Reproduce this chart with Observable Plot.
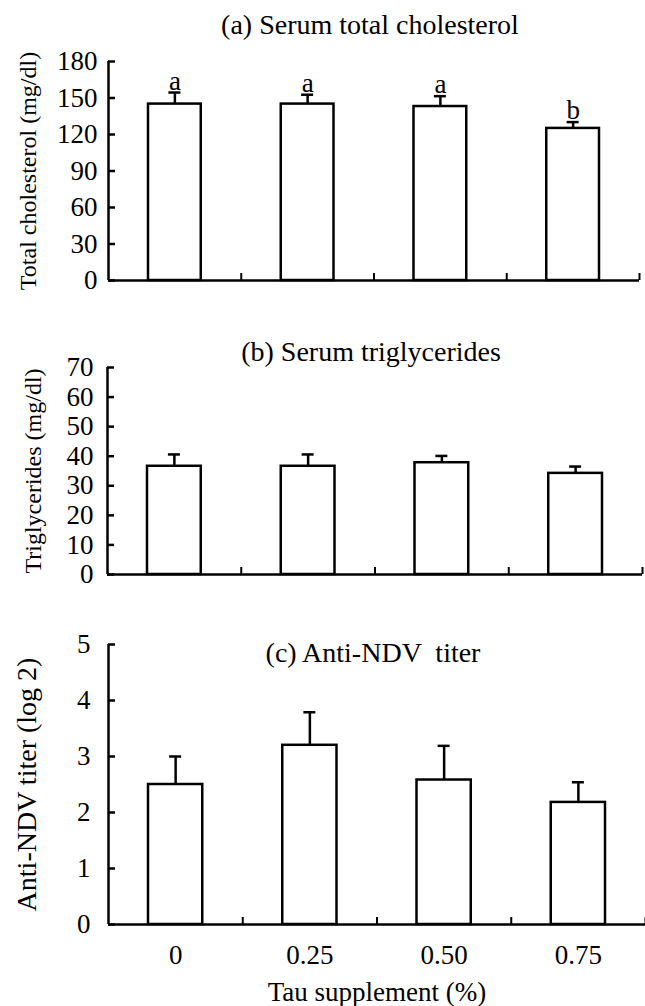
<!DOCTYPE html>
<html>
<head>
<meta charset="utf-8">
<script src="https://cdn.jsdelivr.net/npm/d3@7"></script>
<script src="https://cdn.jsdelivr.net/npm/@observablehq/plot@0.6"></script>
<style>
  html, body { margin: 0; padding: 0; background: white; }
  #chart svg { display: block; }
</style>
</head>
<body>
<div id="chart"></div>
<script>
// ---- Data ----
const categories = ["0", "0.25", "0.50", "0.75"];

const cholMean = [145, 145, 143, 125];
const cholErr = [9.5, 7.7, 8.5, 5.2];
const cholLetters = ["a", "a", "a", "b"];
const cholTicks = [0, 30, 60, 90, 120, 150, 180];

const trigMean = [36.6, 36.6, 37.8, 34.2];
const trigErr = [4.0, 4.0, 2.3, 2.3];
const trigTicks = [0, 10, 20, 30, 40, 50, 60, 70];

const ndvMean = [2.5, 3.2, 2.58, 2.18];
const ndvErr = [0.5, 0.59, 0.61, 0.36];
const ndvTicks = [0, 1, 2, 3, 4, 5];

const titles = ["(a) Serum total cholesterol", "(b) Serum triglycerides", "(c) Anti-NDV  titer"];
const yLabels = ["Total cholesterol (mg/dl)", "Triglycerides (mg/dl)", "Anti-NDV titer (log 2)"];
const xTitle = "Tau supplement (%)";

const FONT = "Liberation Serif";
const SW = 2.5;

function rowsOf(means, errs, letters) {
  return categories.map((c, i) => ({cat: c, i, mean: means[i], err: errs[i], top: means[i] + errs[i], letter: letters ? letters[i] : ""}));
}

function panel(o) {
  const rows = rowsOf(o.means, o.errs, o.letters);
  const yMax = o.ticks[o.ticks.length - 1];
  const marks = [
    Plot.rect(rows, {x1: d => d.i, x2: d => d.i + 1, y1: () => 0, y2: "mean", insetLeft: 40, insetRight: 40, fill: "white", stroke: "black", strokeWidth: SW}),
    Plot.ruleX(rows, {x: d => d.i + 0.5, y1: "mean", y2: "top", stroke: "black", strokeWidth: SW}),
    Plot.ruleY(rows, {y: "top", x1: d => d.i + 0.5, x2: d => d.i + 0.5, insetLeft: -6, insetRight: -6, stroke: "black", strokeWidth: SW}),
    Plot.ruleX([0], {y1: () => 0, y2: () => yMax, stroke: "black", strokeWidth: SW}),
    Plot.ruleY([0], {stroke: "black", strokeWidth: SW}),
    Plot.axisY({ticks: o.ticks, tickSize: 0, tickPadding: o.tickPad, tickFormat: d => String(d), fontSize: o.tickFont, label: null}),
    Plot.axisY({ticks: o.ticks, tickSize: -7, tickFormat: () => "", strokeWidth: SW, label: null}),
    Plot.axisX({ticks: [1, 2, 3, 4], tickSize: -7, tickFormat: () => "", strokeWidth: 2, label: null}),
    Plot.text([o.title], {frameAnchor: "top", dy: o.titleDy, dx: -4, lineAnchor: "middle", textAnchor: "middle", fontSize: o.titleFont, fill: "black"}),
    Plot.text([o.ylabel], {frameAnchor: "left", rotate: -90, dx: o.ylabelDx, textAnchor: "middle", lineAnchor: "middle", fontSize: o.ylabelFont, fill: "black"})
  ];
  if (o.letters) {
    marks.push(Plot.text(rows, {x: d => d.i + 0.5, y: "top", text: "letter", dy: -3, lineAnchor: "bottom", fontSize: 27, fill: "black"}));
  }
  if (o.xLabels) {
    marks.push(Plot.axisX({ticks: categories.map((c, i) => i + 0.5), tickSize: 0, tickPadding: 20, tickFormat: v => categories[Math.round(v - 0.5)], fontSize: o.tickFont, label: null}));
    marks.push(Plot.text([xTitle], {frameAnchor: "bottom", dy: 68, lineAnchor: "middle", textAnchor: "middle", fontSize: 27, fill: "black"}));
  }
  return Plot.plot({
    width: 645,
    height: o.height,
    marginTop: o.marginTop,
    marginBottom: o.marginBottom,
    marginLeft: o.marginLeft,
    marginRight: o.marginRight,
    x: {type: "linear", domain: [0, 4]},
    y: {type: "linear", domain: [0, yMax]},
    style: {fontFamily: FONT, color: "black", background: "white", overflow: "visible"},
    marks
  });
}

const chart = document.getElementById("chart");
chart.append(panel({
  means: cholMean, errs: cholErr, letters: cholLetters, ticks: cholTicks,
  height: 300, marginTop: 61, marginBottom: 20, marginLeft: 108, marginRight: 6,
  title: titles[0], titleDy: -36, titleFont: 28,
  ylabel: yLabels[0], ylabelDx: -80, ylabelFont: 24,
  tickFont: 27, tickPad: 11
}));
chart.append(panel({
  means: trigMean, errs: trigErr, ticks: trigTicks,
  height: 300, marginTop: 67, marginBottom: 26, marginLeft: 107, marginRight: 3,
  title: titles[1], titleDy: -15, titleFont: 28,
  ylabel: yLabels[1], ylabelDx: -74, ylabelFont: 24,
  tickFont: 27, tickPad: 14
}));
chart.append(panel({
  means: ndvMean, errs: ndvErr, ticks: ndvTicks, xLabels: true,
  height: 406, marginTop: 44, marginBottom: 82, marginLeft: 108, marginRight: 0,
  title: titles[2], titleDy: 9, titleFont: 28,
  ylabel: yLabels[2], ylabelDx: -81, ylabelFont: 28,
  tickFont: 27, tickPad: 18
}));
</script>
</body>
</html>
